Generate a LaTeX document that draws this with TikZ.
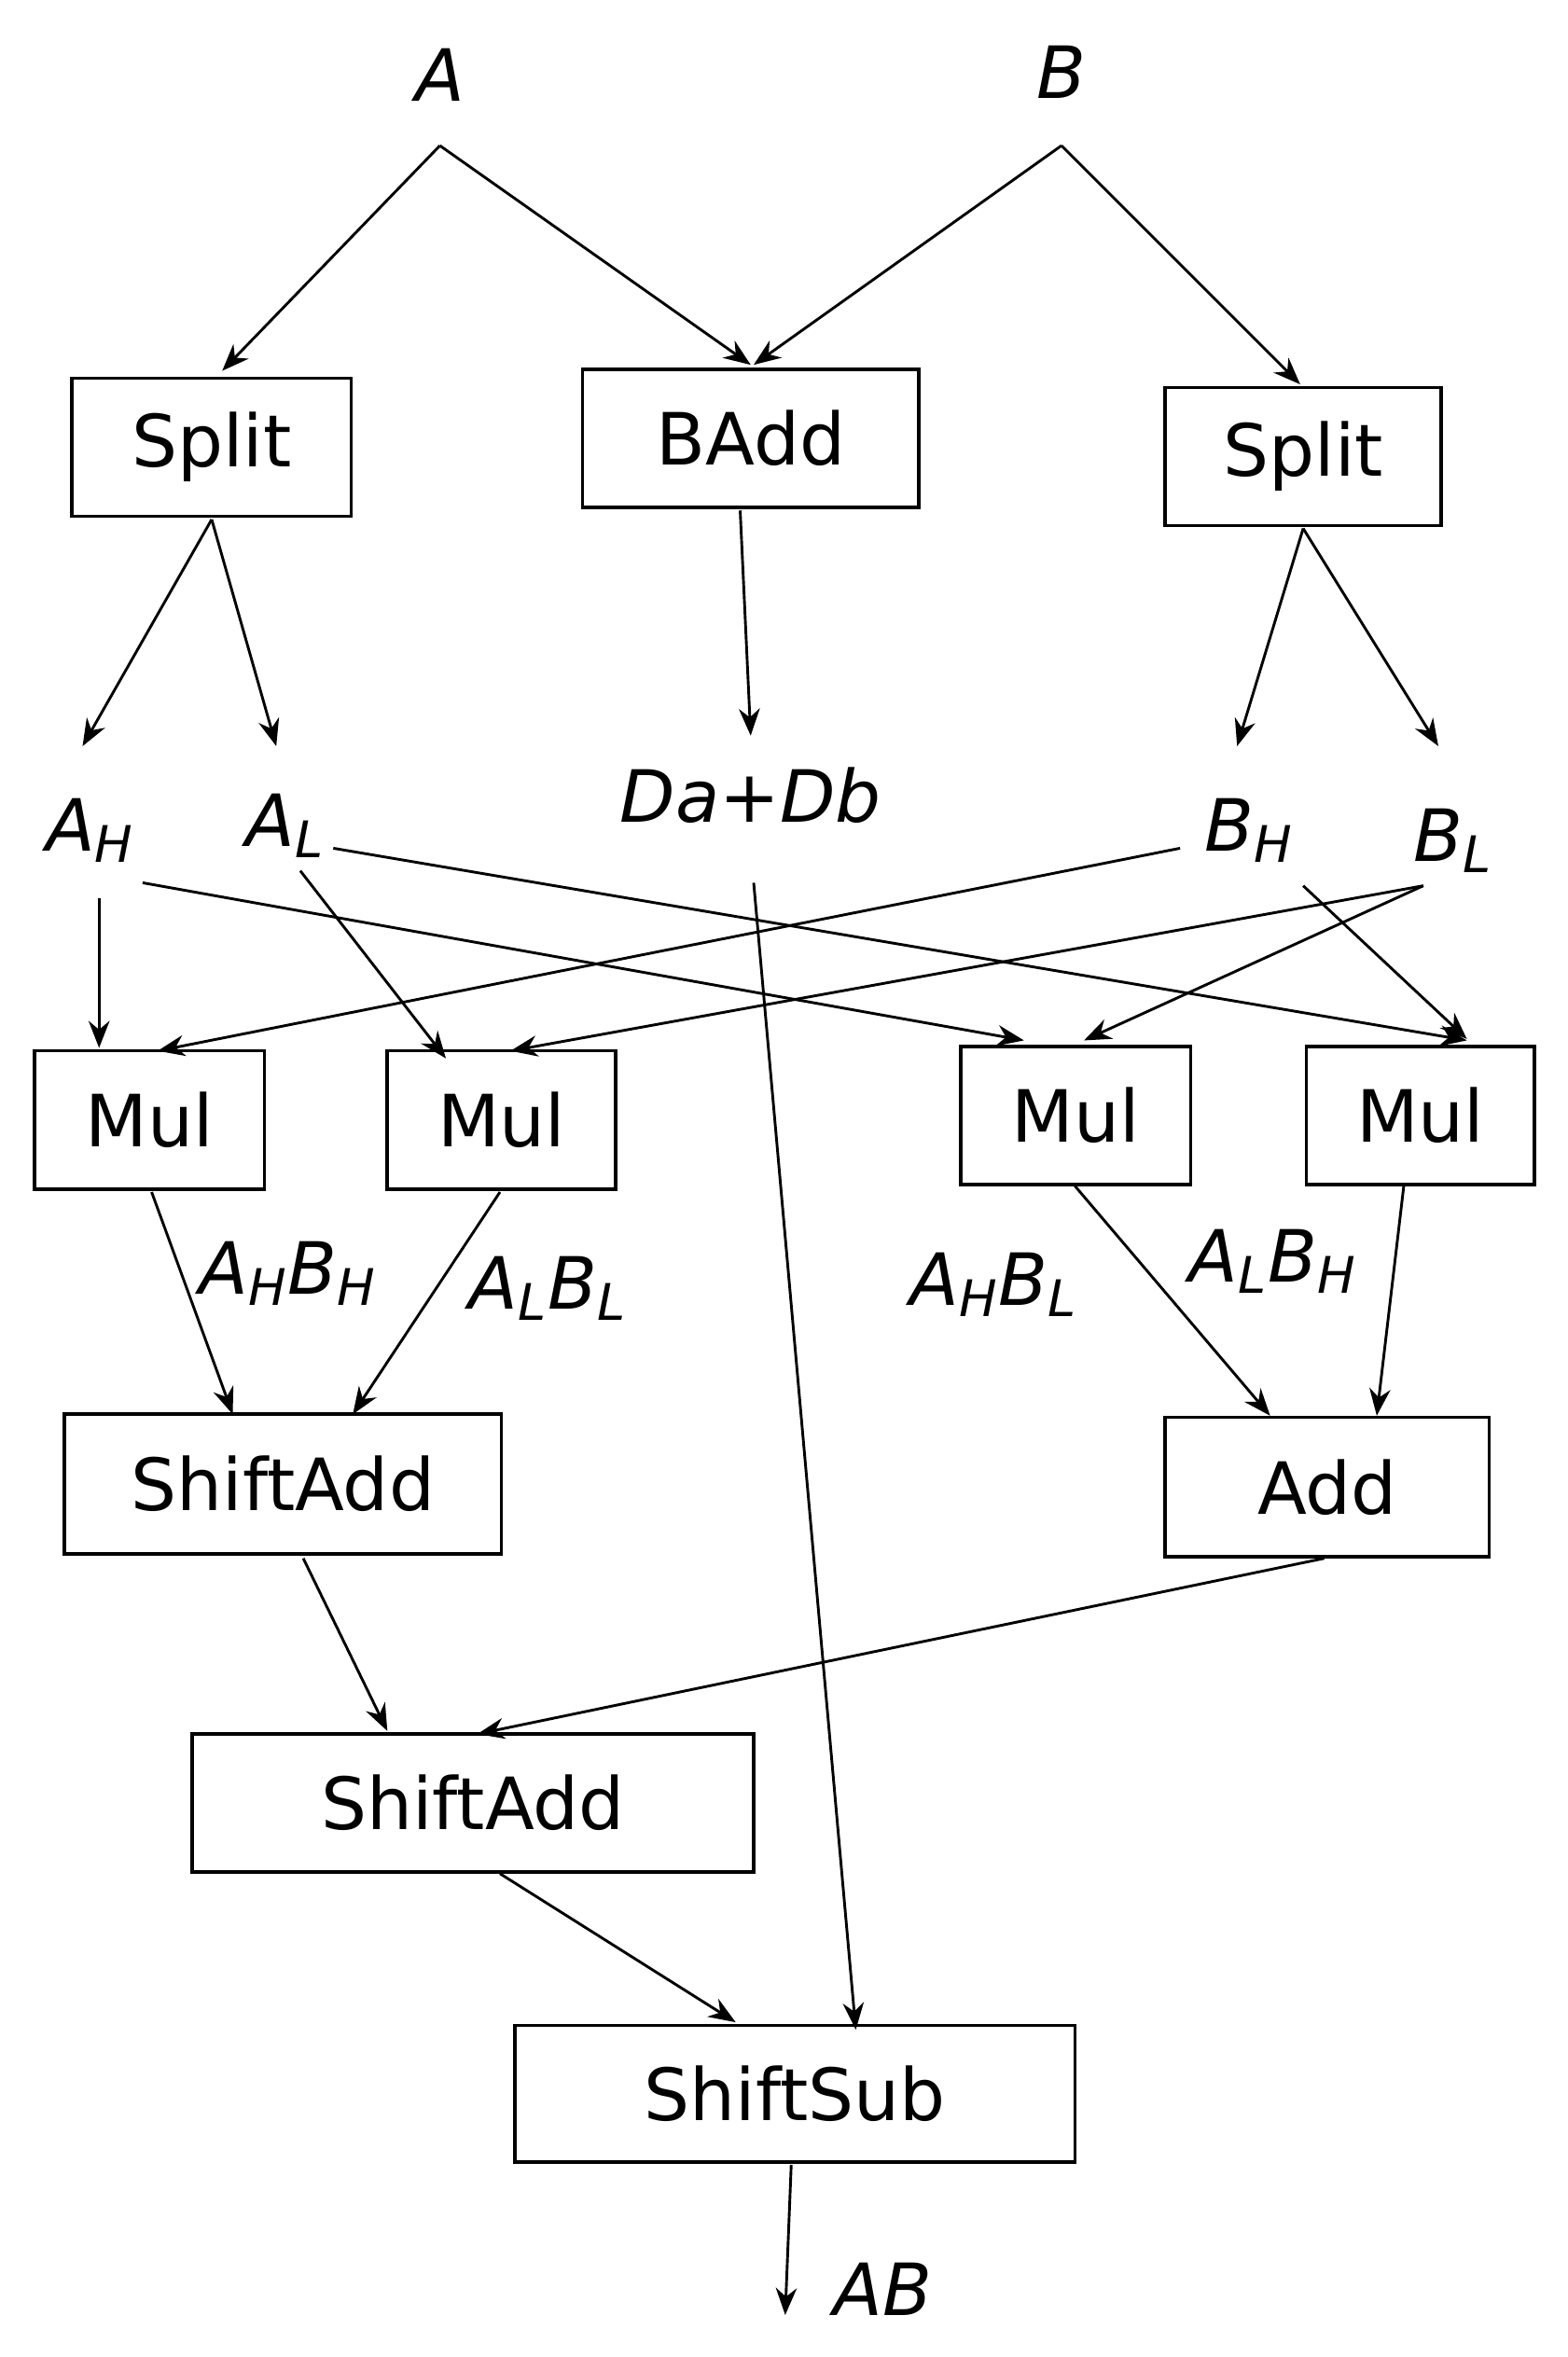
\documentclass[tikz,border=0pt]{standalone}
\usepackage{fontspec}
\setmainfont{DejaVu Sans}
\usetikzlibrary{arrows.meta}
\begin{document}
\begin{tikzpicture}[x=0.5pt,y=-0.5pt,
  box/.style={draw,line width=1.1pt,inner sep=0pt,font=\fontsize{24}{28}\selectfont},
  lab/.style={inner sep=0pt,font=\fontsize{24}{28}\selectfont\itshape},
  sl/.style={inner sep=0pt,font=\fontsize{24}{28}\selectfont\itshape},
  ar/.style={line width=0.9pt,-{Stealth[length=9pt,width=7pt]}}]
\useasboundingbox (0,0) rectangle (1044,1570);
\newcommand{\bx}[6]{\node[box,minimum width={(#4-#2)*0.5pt},minimum height={(#5-#3)*0.5pt}] (#1) at ({(#2+#4)/2},{(#3+#5)/2}) {#6};}
\bx{sp1}{48}{252}{234}{344}{Split}
\bx{badd}{388}{246}{612}{338}{BAdd}
\bx{sp2}{776}{258}{960}{350}{Split}
\bx{m1}{23}{700}{176}{792}{Mul}
\bx{m2}{258}{700}{410}{792}{Mul}
\bx{m3}{640}{697}{793}{789}{Mul}
\bx{m4}{870}{697}{1022}{789}{Mul}
\bx{sa1}{43}{942}{334}{1035}{ShiftAdd}
\bx{add}{776}{944}{992}{1037}{Add}
\bx{sa2}{128}{1155}{502}{1247}{ShiftAdd}
\bx{ss}{343}{1349}{716}{1440}{ShiftSub}
\node[lab] (A) at (293,50) {A};
\node[lab] (B) at (707,48) {B};
\node[lab] (AH) at (60,553) {A\textsubscript{H}};
\node[lab] (AL) at (190,550) {A\textsubscript{L}};
\node[lab] (DD) at (500,530) {Da+Db};
\node[lab] (BH) at (832,553) {B\textsubscript{H}};
\node[lab] (BL) at (968,560) {B\textsubscript{L}};
\node[lab] at (192,848) {A\textsubscript{H}B\textsubscript{H}};
\node[lab] at (365,858) {A\textsubscript{L}B\textsubscript{L}};
\node[lab] at (662,856) {A\textsubscript{H}B\textsubscript{L}};
\node[lab] at (848,840) {A\textsubscript{L}B\textsubscript{H}};
\node[lab] (AB) at (588,1525) {AB};
\coordinate (a0) at (293,97); \coordinate (b0) at (707,97);
\coordinate (ah0) at (66,598); \coordinate (ah1) at (95,588);
\coordinate (al0) at (200,580); \coordinate (al1) at (222,565);
\coordinate (bh0) at (786,565); \coordinate (bh1) at (868,590);
\coordinate (bl0) at (948,590); \coordinate (dd0) at (502,588);
\coordinate (ab0) at (523,1542);
\draw[ar] (a0) -- (148,247);
\draw[ar] (a0) -- (500,243);
\draw[ar] (b0) -- (502,243);
\draw[ar] (b0) -- (866,256);
\draw[ar] (141,346) -- (55,497);
\draw[ar] (141,346) -- (184,497);
\draw[ar] (493,340) -- (500,490);
\draw[ar] (868,352) -- (824,497);
\draw[ar] (868,352) -- (958,497);
\draw[ar] (ah0) -- (66,698);
\draw[ar] (ah1) -- (682,693);
\draw[ar] (al0) -- (297,705);
\draw[ar] (al1) -- (977,693);
\draw[ar] (bh0) -- (105,700);
\draw[ar] (bh1) -- (977,692);
\draw[ar] (bl0) -- (340,700);
\draw[ar] (bl0) -- (722,693);
\draw[ar] (dd0) -- (570,1352);
\draw[ar] (101,794) -- (155,942);
\draw[ar] (333,794) -- (235,942);
\draw[ar] (716,790) -- (846,943);
\draw[ar] (935,790) -- (917,943);
\draw[ar] (202,1038) -- (258,1153);
\draw[ar] (882,1038) -- (318,1155);
\draw[ar] (333,1248) -- (490,1347);
\draw[ar] (527,1442) -- (ab0);
\end{tikzpicture}
\end{document}
